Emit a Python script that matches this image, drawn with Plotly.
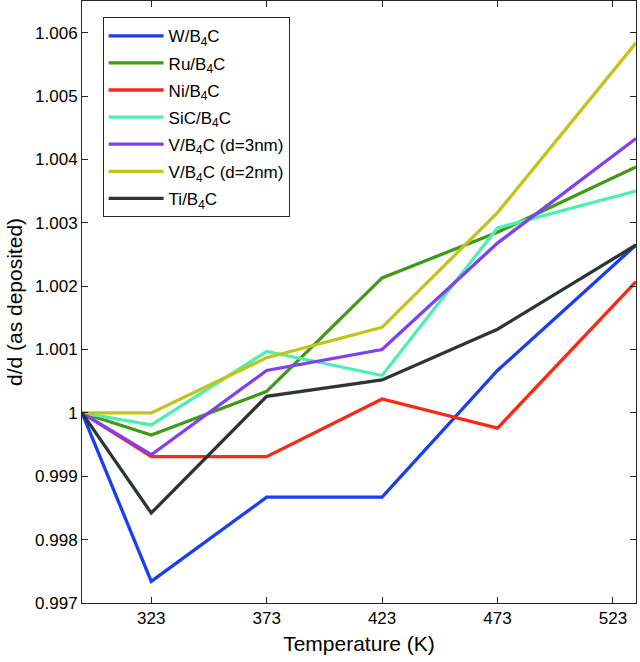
import plotly.graph_objects as go

temperature = [293, 323, 373, 423, 473, 533]

series_names = ["W/B<sub>4</sub>C", "Ru/B<sub>4</sub>C", "Ni/B<sub>4</sub>C", "SiC/B<sub>4</sub>C",
                "V/B<sub>4</sub>C (d=3nm)", "V/B<sub>4</sub>C (d=2nm)", "Ti/B<sub>4</sub>C"]

w_b4c = [1.0, 0.99734, 0.99867, 0.99867, 1.00067, 1.00265]
ru_b4c = [1.0, 0.99965, 1.00034, 1.00213, 1.00285, 1.00388]
ni_b4c = [1.0, 0.99931, 0.99931, 1.00022, 0.99976, 1.00207]
sic_b4c = [1.0, 0.99981, 1.00097, 1.00059, 1.00292, 1.00350]
v3_b4c = [1.0, 0.99934, 1.00067, 1.00100, 1.00268, 1.00433]
v2_b4c = [1.0, 1.00000, 1.00087, 1.00135, 1.00316, 1.00584]
ti_b4c = [1.0, 0.99842, 1.00026, 1.00052, 1.00132, 1.00265]

series_values = [w_b4c, ru_b4c, ni_b4c, sic_b4c, v3_b4c, v2_b4c, ti_b4c]
colors = ["#1b3ef2", "#3f9a15", "#fa2a12", "#4ef0b2", "#7d40f2", "#c2c418", "#2e3334"]

x_tickvals = [323, 373, 423, 473, 523]
x_ticktext = ["323", "373", "423", "473", "523"]
y_tickvals = [0.997, 0.998, 0.999, 1.0, 1.001, 1.002, 1.003, 1.004, 1.005, 1.006]
y_ticktext = ["0.997", "0.998", "0.999", "1", "1.001", "1.002", "1.003", "1.004", "1.005", "1.006"]

fig = go.Figure()
for i, (name, vals, col) in enumerate(zip(series_names, series_values, colors)):
    fig.add_trace(go.Scatter(x=temperature, y=vals, mode="lines", name=name,
                             legendgroup="g%d" % i,
                             line=dict(color=col, width=3.3)))

font_family = "Liberation Sans, Arial, sans-serif"
fig.update_layout(
    width=640, height=662,
    margin=dict(l=82, r=4, t=1, b=59, autoexpand=False),
    paper_bgcolor="white", plot_bgcolor="white",
    font=dict(family=font_family, color="black", size=17),
    showlegend=True,
    legend=dict(
        x=0.0372, y=0.973, xanchor="left", yanchor="top",
        bgcolor="white", bordercolor="#262626", borderwidth=1,
        font=dict(size=17, family=font_family, color="black"),
        itemwidth=55, tracegroupgap=2,
    ),
    xaxis=dict(
        range=[293, 533], tickvals=x_tickvals, ticktext=x_ticktext,
        ticks="inside", ticklen=6, tickcolor="#262626",
        showline=True, linecolor="#262626", linewidth=1, mirror="ticks",
        showgrid=False, zeroline=False, automargin=False,
        title=dict(text="Temperature (K)", font=dict(size=21), standoff=8),
        tickfont=dict(size=17),
    ),
    yaxis=dict(
        range=[0.997, 1.0065], tickvals=y_tickvals, ticktext=y_ticktext,
        ticks="inside", ticklen=6, tickcolor="#262626",
        showline=True, linecolor="#262626", linewidth=1, mirror="ticks",
        showgrid=False, zeroline=False, automargin=False,
        title=dict(text="d/d (as deposited)", font=dict(size=21), standoff=6),
        tickfont=dict(size=17),
    ),
)

fig.write_html("out.html", config={"displayModeBar": False},
               post_script="document.body.style.margin='0';")
